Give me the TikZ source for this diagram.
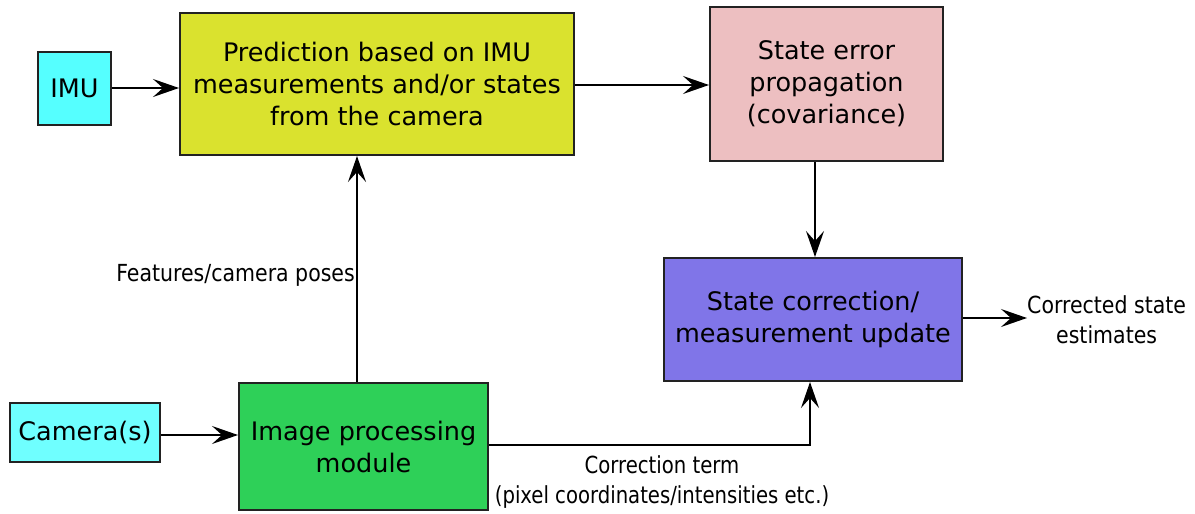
\documentclass[tikz,border=0pt]{standalone}
\usepackage{fontspec}
\setmainfont{DejaVu Sans}
\newfontfamily\condfont[FakeStretch=0.97]{DejaVu Sans Condensed}
\newfontfamily\condfontb[FakeStretch=0.93]{DejaVu Sans Condensed}
\usetikzlibrary{arrows.meta}
\definecolor{cimu}{HTML}{55FFFF}
\definecolor{ccam}{HTML}{6FFFFF}
\definecolor{cpred}{HTML}{DAE22E}
\definecolor{cerr}{HTML}{EDBFC1}
\definecolor{ccorr}{HTML}{8075E8}
\definecolor{cimg}{HTML}{2ED058}
\definecolor{cline}{HTML}{222222}
\begin{document}
\begin{tikzpicture}[x=1pt,y=-1pt,
  box/.style={draw=cline,line width=2pt,rectangle,inner sep=0pt,align=center,
    font=\fontsize{25.5}{32}\selectfont},
  lab/.style={font=\condfont\fontsize{23.5}{30}\selectfont,inner sep=0pt,align=center},
  labb/.style={font=\condfontb\fontsize{23.5}{30}\selectfont,inner sep=0pt,align=center},
  arr/.style={-{Stealth[length=26pt,width=18pt,inset=10pt]},line width=1.6pt,black}]
\useasboundingbox (0,0) rectangle (1195,514);
\node[box,fill=cimu,minimum width=73pt,minimum height=73pt] (imu) at (74.5,88.5) {IMU};
\node[box,fill=cpred,minimum width=394pt,minimum height=142pt] (pred) at (377,84) {Prediction based on IMU\\measurements and/or states\\from the camera};
\node[box,fill=cerr,minimum width=233pt,minimum height=154pt] (err) at (826.5,84) {State error\\propagation\\(covariance)};
\node[box,fill=ccorr,minimum width=298pt,minimum height=123pt] (corr) at (813,319.5) {State correction/\\measurement update};
\node[box,fill=ccam,minimum width=150pt,minimum height=59pt] (cam) at (85,432.5) {Camera(s)};
\node[box,fill=cimg,minimum width=249pt,minimum height=127pt] (img) at (363.5,446.5) {Image processing\\module};
\coordinate (out) at (1027,318);
\node[lab,anchor=west] (outlab) at (1027,320) {Corrected state\\estimates};
\node[lab,anchor=east] (featlab) at (355,275) {Features/camera poses};
\node[labb] (corrlab) at (662,482) {Correction term\\(pixel coordinates/intensities etc.)};
\draw[arr] (imu.east |- 0,88) -- (pred.west |- 0,88);
\draw[arr] (pred.east |- 0,85) -- (err.west |- 0,85);
\draw[arr] (err.south -| 815,0) -- (corr.north -| 815,0);
\draw[arr] (corr.east |- 0,318) -- (out);
\draw[arr] (cam.east |- 0,435) -- (img.west |- 0,435);
\draw[arr] (img.north -| 357,0) -- (pred.south -| 357,0);
\draw[arr] (img.east |- 0,445) -- (810,445) -- (corr.south -| 810,0);
\end{tikzpicture}
\end{document}
